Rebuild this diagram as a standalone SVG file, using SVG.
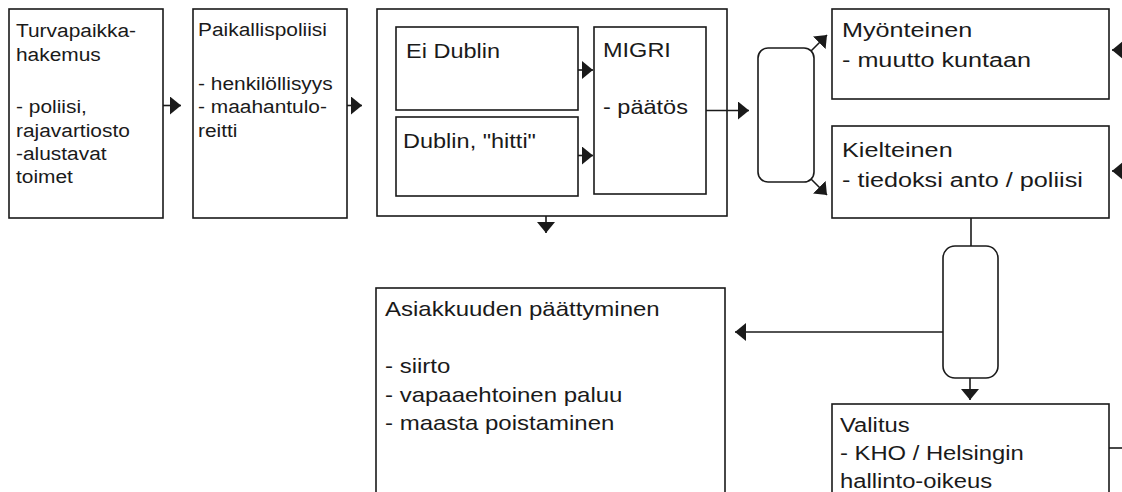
<svg xmlns="http://www.w3.org/2000/svg" width="1122" height="492" viewBox="0 0 1122 492">
<style>
.box{fill:#fff;stroke:#1a1a1a;stroke-width:1.6}
.ln{fill:none;stroke:#1a1a1a;stroke-width:1.6}
.arr{marker-end:url(#ah)}
text{font-family:"Liberation Sans",Arial,sans-serif;fill:#1a1a1a}
.s1{font-size:19px}
.s2{font-size:21px}
.s3{font-size:20px}
.s4{font-size:21px}
</style>
<defs>
<marker id="ah" markerUnits="userSpaceOnUse" markerWidth="12" markerHeight="18" refX="11" refY="9" orient="auto" viewBox="0 0 12 18">
<path d="M0,0 L11,9 L0,18 Z" fill="#1a1a1a"/>
</marker>
</defs>
<rect width="1122" height="492" fill="#fff"/>

<g id="turvapaikka">
<rect class="box" x="9" y="9" width="154" height="209"/>
<g transform="translate(16,0) scale(1.1,1)">
<text x="0" y="37" class="s1">Turvapaikka-</text>
<text x="0" y="61" class="s1">hakemus</text>
<text x="0" y="113" class="s1">- poliisi,</text>
<text x="0" y="137" class="s1">rajavartiosto</text>
<text x="0" y="160" class="s1">-alustavat</text>
<text x="0" y="183" class="s1">toimet</text>
</g>
</g>

<g id="paikallispoliisi">
<rect class="box" x="193" y="9" width="154" height="209"/>
<g transform="translate(198,0) scale(1.1,1)">
<text x="0" y="36" class="s1">Paikallispoliisi</text>
<text x="0" y="90" class="s1">- henkilöllisyys</text>
<text x="0" y="113" class="s1">- maahantulo-</text>
<text x="0" y="137" class="s1">reitti</text>
</g>
</g>

<g id="kasittely">
<rect class="box" x="377" y="9" width="350" height="207"/>
</g>

<g id="ei-dublin">
<rect class="box" x="396" y="27" width="182" height="83"/>
<g transform="translate(406,0) scale(1.12,1)">
<text x="0" y="58" class="s2">Ei Dublin</text>
</g>
</g>

<g id="dublin-hitti">
<rect class="box" x="396" y="117" width="182" height="79"/>
<g transform="translate(403,0) scale(1.12,1)">
<text x="0" y="148" class="s2">Dublin, "hitti"</text>
</g>
</g>

<g id="migri">
<rect class="box" x="594" y="27" width="112" height="167"/>
<g transform="translate(603,0) scale(1.12,1)">
<text x="0" y="57" class="s2">MIGRI</text>
<text x="0" y="114" class="s2">- päätös</text>
</g>
</g>

<g id="myonteinen">
<rect class="box" x="832" y="9" width="277" height="90"/>
<g transform="translate(842,0) scale(1.2,1)">
<text x="0" y="37" class="s4">Myönteinen</text>
<text x="0" y="67" class="s4">- muutto kuntaan</text>
</g>
</g>

<g id="kielteinen">
<rect class="box" x="832" y="126" width="277" height="92"/>
<g transform="translate(842,0) scale(1.2,1)">
<text x="0" y="157" class="s4">Kielteinen</text>
<text x="0" y="187" class="s4">- tiedoksi anto / poliisi</text>
</g>
</g>

<g id="asiakkuuden-paattyminen">
<rect class="box" x="376" y="288" width="349" height="220"/>
<g transform="translate(385,0) scale(1.2,1)">
<text x="0" y="316" class="s3">Asiakkuuden päättyminen</text>
<text x="0" y="373" class="s3">- siirto</text>
<text x="0" y="402" class="s3">- vapaaehtoinen paluu</text>
<text x="0" y="430" class="s3">- maasta poistaminen</text>
</g>
</g>

<g id="valitus">
<rect class="box" x="832" y="404" width="277" height="110"/>
<g transform="translate(840,0) scale(1.19,1)">
<text x="0" y="432" class="s3">Valitus</text>
<text x="0" y="460" class="s3">- KHO / Helsingin</text>
<text x="0" y="488" class="s3">hallinto-oikeus</text>
</g>
</g>

<g id="connectors">
<path class="ln arr" d="M163,105.5 L181,105.5"/>
<path class="ln arr" d="M347,105.5 L362,105.5"/>
<path class="ln arr" d="M578,70 L593,70"/>
<path class="ln arr" d="M578,155.5 L593,155.5"/>
<path class="ln arr" d="M706,110.5 L749,110.5"/>
<path class="ln arr" d="M546,216 L546,233"/>
<rect class="ln" x="758" y="48" width="56" height="134" rx="10" ry="10"/>
<path class="ln arr" d="M811,51 L827,35"/>
<path class="ln arr" d="M811,179 L827,195"/>
<path class="ln" d="M971,218 L971,246"/>
<rect class="ln" x="943" y="246" width="55" height="132" rx="12" ry="12"/>
<path class="ln arr" d="M943,332 L735,332"/>
<path class="ln arr" d="M970,378 L970,400"/>
<path class="ln arr" d="M1135,50 L1112,50"/>
<path class="ln arr" d="M1135,171 L1112,171"/>
<path class="ln" d="M1109,448 L1124,448"/>
</g>
</svg>
